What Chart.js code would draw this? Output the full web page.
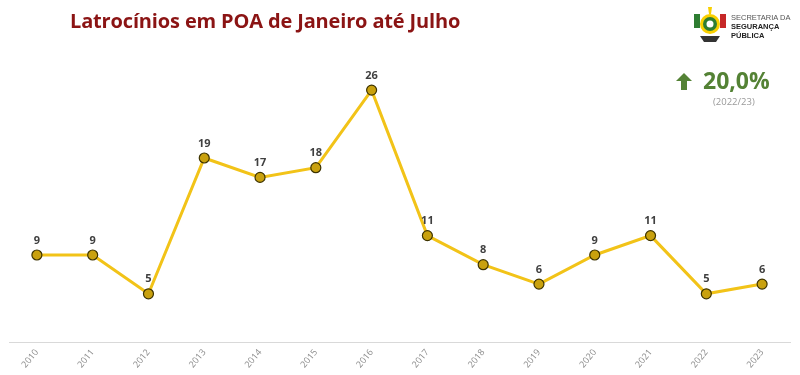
<!DOCTYPE html>
<html>
<head>
<meta charset="utf-8">
<script src="https://cdn.jsdelivr.net/npm/chart.js@4"></script>
<style>
  body { margin: 0; background: #fff; font-family: "Open Sans", sans-serif; }
  #wrap { position: relative; width: 800px; height: 375px; }
  #title { position: absolute; left: 70px; top: 7px; font-size: 20px; font-weight: bold; color: #8B1414; font-family: "Open Sans", sans-serif; letter-spacing: -0.15px; }
  #logo { position: absolute; left: 690px; top: 4px; width: 40px; height: 42px; }
  #logoTxt { position: absolute; left: 731px; top: 13px; font-size: 7.5px; line-height: 9px; color: #555; font-family: "Liberation Sans", sans-serif; }
  #logoTxt b { color: #222; }
  #kpi { position: absolute; left: 676px; top: 64px; color: #548235; font-weight: bold; font-size: 23px; font-family: "Open Sans", sans-serif; }
  #kpiSub { position: absolute; left: 713px; top: 95px; color: #999; font-size: 9.5px; }
  canvas { position: absolute; left: 0; top: 0; }
</style>
</head>
<body>
<div id="wrap">
  <canvas id="chart" width="800" height="375"></canvas>
  <div id="title">Latrocínios em POA de Janeiro até Julho</div>
  <svg id="logo" viewBox="0 0 40 42">
    <rect x="4" y="10" width="6" height="14" fill="#2e7d32"/>
    <rect x="30" y="10" width="6" height="14" fill="#c62828"/>
    <circle cx="20" cy="20" r="10" fill="#f9d000"/>
    <circle cx="20" cy="20" r="7" fill="#2e7d32"/>
    <circle cx="20" cy="20" r="3.5" fill="#fff"/>
    <path d="M10 32 L30 32 L26 38 L14 38 Z" fill="#333"/>
    <path d="M18 3 L22 3 L21 10 L19 10 Z" fill="#f9d000"/>
  </svg>
  <div id="logoTxt">SECRETARIA DA<br><b>SEGURANÇA</b><br><b>PÚBLICA</b></div>
  <div id="kpi"><svg width="16" height="17" viewBox="0 0 16 17" style="vertical-align:-1px;margin-right:11px"><path d="M8 0 L16 8 L11 8 L11 17 L5 17 L5 8 L0 8 Z" fill="#548235"/></svg>20,0%</div>
  <div id="kpiSub">(2022/23)</div>
</div>
<script>
const years = ['2010', '2011', '2012', '2013', '2014', '2015', '2016', '2017', '2018', '2019', '2020', '2021', '2022', '2023'];
const latrocinios = [9, 9, 5, 19, 17, 18, 26, 11, 8, 6, 9, 11, 5, 6];

// rótulos com os valores acima dos pontos
const valueLabels = {
    id: 'valueLabels',
    afterDatasetsDraw(chart) {
        const ctx = chart.ctx;
        const meta = chart.getDatasetMeta(0);
        ctx.save();
        ctx.font = 'bold 11px "Open Sans", sans-serif';
        ctx.fillStyle = '#404040';
        ctx.textAlign = 'center';
        ctx.textBaseline = 'bottom';
        meta.data.forEach((pt, i) => {
            ctx.fillText(latrocinios[i], pt.x, pt.y - 9);
        });
        ctx.restore();
    }
};

const ctx = document.getElementById('chart').getContext('2d');
new Chart(ctx, {
    type: 'line',
    data: {
        labels: years,
        datasets: [{
            data: latrocinios,
            borderColor: '#F2C318',
            borderWidth: 3,
            pointBackgroundColor: '#C9A10E',
            pointBorderColor: '#3d3300',
            pointBorderWidth: 1.2,
            pointRadius: 5,
            tension: 0
        }]
    },
    options: {
        responsive: false,
        animation: false,
        layout: { padding: { left: 9, right: 10, top: 61, bottom: 0 } },
        plugins: { legend: { display: false }, tooltip: { enabled: false } },
        scales: {
            x: {
                offset: true,
                grid: { display: false, drawTicks: false },
                border: { color: '#d9d9d9', width: 1 },
                ticks: {
                    color: '#8c8c8c',
                    font: { size: 9, family: '"Open Sans", sans-serif' },
                    minRotation: 50,
                    maxRotation: 50,
                    padding: 5
                }
            },
            y: {
                display: false,
                min: 0,
                max: 29
            }
        }
    },
    plugins: [valueLabels]
});
</script>
</body>
</html>
